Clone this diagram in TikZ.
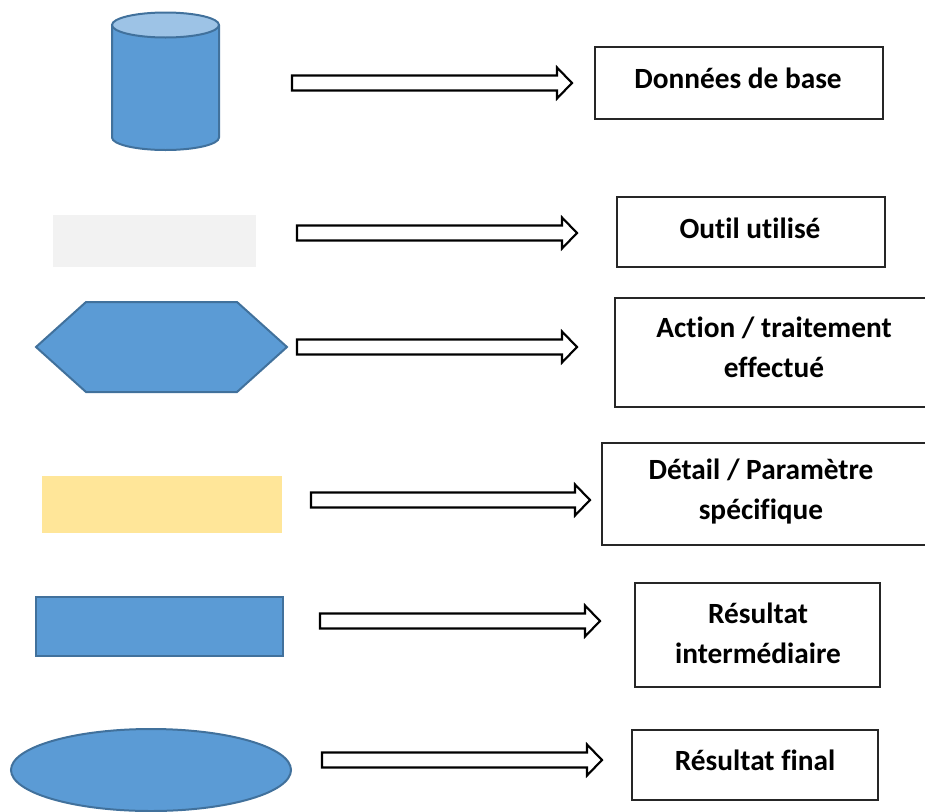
\documentclass[tikz,border=0pt]{standalone}
\usepackage{fontspec}
\setmainfont{Carlito}[Ligatures=NoCommon]
\usepackage{tikz}
\usetikzlibrary{positioning}
\usepackage{xcolor}
\definecolor{shapeblue}{RGB}{91,155,213}
\definecolor{edgeblue}{RGB}{65,113,156}
\definecolor{lightblue}{RGB}{157,195,230}
\definecolor{toolgray}{RGB}{242,242,242}
\definecolor{detailyellow}{RGB}{255,230,153}
\tikzset{blueshape/.style={fill=shapeblue, draw=edgeblue, line width=1.5pt},labelbox/.style={draw=black!85, line width=1pt}}

\begin{document}
\begin{tikzpicture}[
        x=0.75pt, y=-0.75pt,
        line join=miter,
        blueshape/.style={fill=shapeblue, draw=edgeblue, line width=1.5pt},
        labelbox/.style={draw=black!85, line width=1pt},
        labeltext/.style={font=\fontsize{22}{30}\selectfont\bfseries, align=center, inner sep=0pt},
        blockarrow/.style={fill=white, draw=black, line width=1.6pt}
    ]
        \useasboundingbox (0,0) rectangle (925,811);
        % Shapes
        \draw[blueshape] (112,25) -- (112,137.5) arc[start angle=180, end angle=0, x radius=53.5, y radius=12.5] -- (219,25);
        \draw[blueshape, fill=lightblue] (165.5,25) ellipse[x radius=53.5, y radius=12.5];
        \fill[toolgray] (53,215) rectangle (256,267);
        \draw[blueshape] (36,347) -- (86,302) -- (237,302) -- (287,347) -- (237,392) -- (86,392) -- cycle;
        \fill[detailyellow] (42,476) rectangle (282,533);
        \draw[blueshape] (36,597) rectangle (283,656);
        \draw[blueshape] (151,770) ellipse[x radius=140, y radius=41];
        % Arrows
        \foreach \xa/\xb/\y in {
            292/572/83,
            297/577/233,
            297/577/347,
            311/590/500,
            320/600/621,
            322/602/760} {
            \draw[blockarrow] (\xa,\y-7.5) -- (\xb-15,\y-7.5) -- (\xb-15,\y-15.5) -- (\xb,\y) -- (\xb-15,\y+15.5) -- (\xb-15,\y+7.5) -- (\xa,\y+7.5) -- cycle;
        }
        % Boxes
        \draw[labelbox] (595,47) rectangle (883,119);
        \draw[labelbox] (617,197) rectangle (885,267);
        \draw[labelbox] (950,298) -- (615,298) -- (615,407) -- (950,407);
        \draw[labelbox] (950,443) -- (602,443) -- (602,545) -- (950,545);
        \draw[labelbox] (635,583) rectangle (880,687);
        \draw[labelbox] (632,730) rectangle (878,800);
        % Labels
        \node[labeltext] (base) at (738,78) {Données de base};
        \node[labeltext] (outil) at (750,228) {Outil utilisé};
        \node[labeltext] (action) at (774,347) {Action / traitement\\effectué};
        \node[labeltext] (detail) at (761,492) {Détail / Paramètre\\spécifique};
        \node[labeltext] (inter) at (758,633) {Résultat\\intermédiaire};
        \node[labeltext] (final) at (755,760) {Résultat final};
    \end{tikzpicture}
\end{document}
